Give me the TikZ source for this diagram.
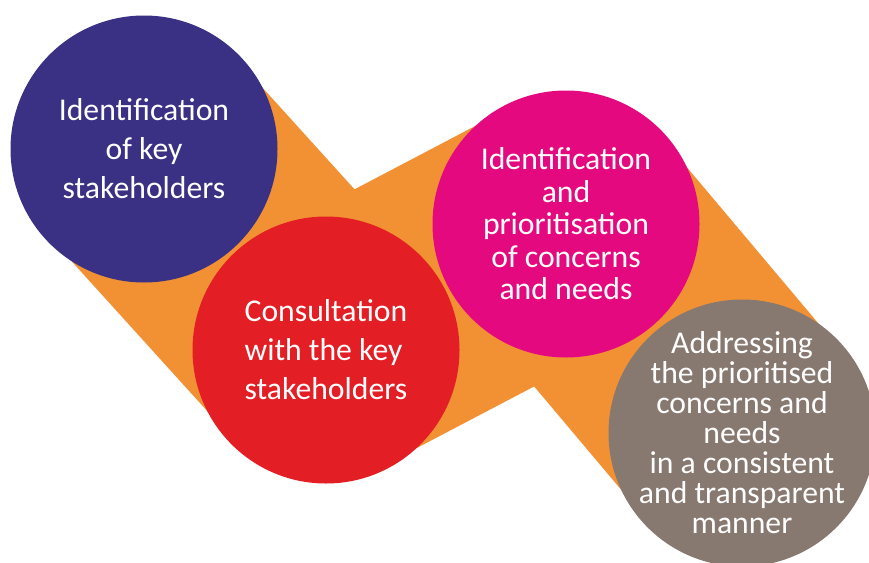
\documentclass[tikz,border=0pt]{standalone}
\usepackage{fontspec}
\setmainfont{Carlito}
\usetikzlibrary{backgrounds}
\definecolor{stakeblue}{RGB}{58,49,133}
\definecolor{stakered}{RGB}{227,30,36}
\definecolor{stakemagenta}{RGB}{228,9,127}
\definecolor{stakegray}{RGB}{135,120,112}
\definecolor{stakeorange}{RGB}{242,145,52}
\tikzset{
  orangeband/.style={draw=stakeorange,line width=258pt,line cap=round,line join=round},
  wide/.style={font=\fontsize{31.7}{39}\selectfont},
  tight/.style={font=\fontsize{31.7}{32.5}\selectfont},
  tighter/.style={font=\fontsize{31.7}{30}\selectfont,inner sep=-18pt}
}

\begin{document}
\begin{tikzpicture}[x=1pt,y=-1pt]
		\useasboundingbox (0,0) rectangle (869,562);
		\clip (0,0) rectangle (869,562);

		\begin{scope}[every node/.style={circle,minimum size=267pt,inner sep=0pt,text=white,align=center}]
			\node[fill=stakeblue,wide] (ident) at (144,149) {Identification\\of key\\stakeholders};
			\node[fill=stakered,wide,align=left] (consult) at (326,350) {Consultation\\with the key\\stakeholders};
			\node[fill=stakemagenta,tight] (prior) at (566,224) {Identification\\and\\prioritisation\\of concerns\\and needs};
			\node[fill=stakegray,tighter] (address) at (742,433) {Addressing\\the prioritised\\concerns and\\needs\\in a consistent\\and transparent\\manner};
		\end{scope}

		\begin{scope}[on background layer]
			\draw[orangeband] (ident.center) -- (consult.center) -- (prior.center) -- (address.center);
		\end{scope}
	\end{tikzpicture}
\end{document}
